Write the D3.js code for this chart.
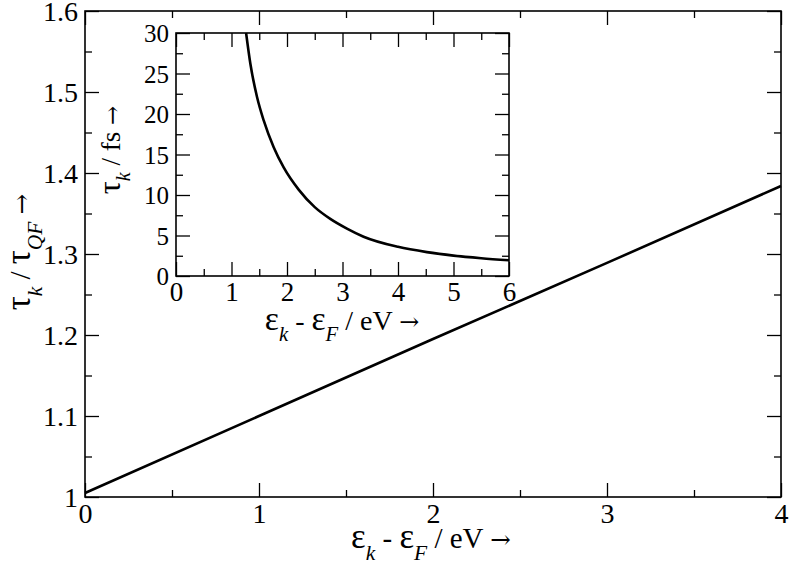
<!DOCTYPE html>
<html>
<head>
<meta charset="utf-8">
<script src="https://cdn.jsdelivr.net/npm/d3@7"></script>
</head>
<body style="margin:0; background:#fff">
<script>
// main chart data: ratio tau_k / tau_QF vs energy
var mainX = [0, 1, 2, 3, 4];
var mainY = [1.005, 1.100, 1.195, 1.289, 1.384];

// inset data: tau_k in fs vs energy
var insetX = [1.263, 1.34, 1.46, 1.58, 1.76, 1.94, 2.21, 2.5, 2.78, 3.08, 3.38, 4.0, 4.52, 5.0, 5.5, 6.0];
var insetY = [30, 26.2, 22.1, 19.2, 15.9, 13.4, 10.66, 8.5, 7.05, 5.85, 4.85, 3.6, 2.95, 2.52, 2.2, 1.95];

// tick labels
var mainXTicks = [0, 1, 2, 3, 4];
var mainYTicks = [1, 1.1, 1.2, 1.3, 1.4, 1.5, 1.6];
var insetXTicks = [0, 1, 2, 3, 4, 5, 6];
var insetYTicks = [0, 5, 10, 15, 20, 25, 30];

var svgWidth = 789;
var svgHeight = 565;
var serif = "'Liberation Serif', 'Times New Roman', serif";

var svg = d3.select("body")
  .append("svg")
  .attr("width", svgWidth)
  .attr("height", svgHeight)
  .style("background", "#fff");

// one axis call, cleaned up so it only leaves tick marks (and labels)
function ticks(g, axis, pos, size, labels, fontSize) {
  var a = g.append("g").attr("transform", pos)
    .call(axis.tickSize(size).tickSizeOuter(0));
  a.select(".domain").remove();
  a.selectAll(".tick line").attr("stroke", "#000").attr("stroke-width", 1.3);
  if (!labels) {
    a.selectAll(".tick text").remove();
  } else {
    a.selectAll(".tick text")
      .attr("fill", "#000")
      .attr("font-size", fontSize)
      .style("font-family", serif);
  }
  return a;
}

// draws a panel with inward ticks on all 4 sides
function panel(g, x, y, xt, yt, xMinor, yMinor, xFont, yFont) {
  var xr = x.range(), yr = y.range();
  var fmt = d3.format("");

  g.append("rect")
    .attr("x", xr[0]).attr("y", yr[1])
    .attr("width", xr[1] - xr[0]).attr("height", yr[0] - yr[1])
    .attr("fill", "#fff").attr("stroke", "none");

  // bottom
  ticks(g, d3.axisBottom(x).tickValues(xMinor), `translate(0,${yr[0]})`, -7, false);
  ticks(g, d3.axisBottom(x).tickValues(xt).tickPadding(5).tickFormat(fmt), `translate(0,${yr[0]})`, -14, true, xFont)
    .selectAll(".tick text").attr("dy", "0.74em");
  // top
  ticks(g, d3.axisTop(x).tickValues(xMinor), `translate(0,${yr[1]})`, -7, false);
  ticks(g, d3.axisTop(x).tickValues(xt), `translate(0,${yr[1]})`, -14, false);
  // left
  ticks(g, d3.axisLeft(y).tickValues(yMinor), `translate(${xr[0]},0)`, -7, false);
  ticks(g, d3.axisLeft(y).tickValues(yt).tickPadding(7).tickFormat(fmt), `translate(${xr[0]},0)`, -14, true, yFont)
    .selectAll(".tick text").attr("dy", "0.34em");
  // right
  ticks(g, d3.axisRight(y).tickValues(yMinor), `translate(${xr[1]},0)`, -7, false);
  ticks(g, d3.axisRight(y).tickValues(yt), `translate(${xr[1]},0)`, -14, false);
}

function frame(g, x, y) {
  var xr = x.range(), yr = y.range();
  g.append("rect")
    .attr("x", xr[0]).attr("y", yr[1])
    .attr("width", xr[1] - xr[0]).attr("height", yr[0] - yr[1])
    .attr("fill", "none").attr("stroke", "#000").attr("stroke-width", 1.6);
}

// label pieces: [text, kind] where kind is "sym" (greek), "sub", "arrow" or plain
function label(g, parts, size, shift) {
  var t = g.append("text")
    .attr("text-anchor", "middle")
    .attr("font-size", size)
    .attr("fill", "#000")
    .style("font-family", serif);
  var sub = false;
  parts.forEach(function(p) {
    var s = t.append("tspan").text(p[0]);
    var kind = p[1];
    if (kind === "sub") {
      s.attr("font-style", "italic").attr("font-size", size * 0.74);
      if (!sub) s.attr("dy", shift);
      sub = true;
      return;
    }
    if (sub) s.attr("dy", -shift);
    sub = false;
    if (kind === "sym") s.attr("font-size", size * 1.2);
    if (kind === "arrow") s.style("font-family", "'DejaVu Serif', serif").attr("font-size", size * 0.85);
  });
  return t;
}

// ---------- main chart ----------
var x = d3.scaleLinear().domain([0, 4]).range([85, 781]);
var y = d3.scaleLinear().domain([1, 1.6]).range([497, 11]);

var mainG = svg.append("g");
panel(mainG, x, y, mainXTicks, mainYTicks,
  d3.range(0.5, 4, 1), d3.range(1.05, 1.6, 0.1), 28, 28);

var line = d3.line()
  .x((d, i) => x(mainX[i]))
  .y((d, i) => y(mainY[i]));

mainG.append("path")
  .datum(mainY)
  .attr("d", line)
  .attr("fill", "none")
  .attr("stroke", "#000")
  .attr("stroke-width", 2.6);

frame(mainG, x, y);

label(mainG, [["ε", "sym"], ["k", "sub"], [" - "], ["ε", "sym"], ["F", "sub"], [" / eV "], ["→", "arrow"]], 29, 12)
  .attr("x", 431).attr("y", 548);

label(mainG, [["τ", "sym"], ["k", "sub"], [" / "], ["τ", "sym"], ["QF", "sub"], [" "], ["→", "arrow"]], 29, 12)
  .attr("transform", "translate(30,252) rotate(-90)");

// ---------- inset ----------
var ix = d3.scaleLinear().domain([0, 6]).range([176, 509]);
var iy = d3.scaleLinear().domain([0, 30]).range([276, 33]);

var insetG = svg.append("g");
panel(insetG, ix, iy, insetXTicks, insetYTicks,
  d3.range(0.5, 6, 1), d3.range(2.5, 30, 5), 27, 25);

var curve = d3.line()
  .x((d, i) => ix(insetX[i]))
  .y((d, i) => iy(insetY[i]))
  .curve(d3.curveMonotoneX);

insetG.append("path")
  .datum(insetY)
  .attr("d", curve)
  .attr("fill", "none")
  .attr("stroke", "#000")
  .attr("stroke-width", 2.6);

frame(insetG, ix, iy);

label(insetG, [["ε", "sym"], ["k", "sub"], [" - "], ["ε", "sym"], ["F", "sub"], [" / eV "], ["→", "arrow"]], 28, 11)
  .attr("x", 342).attr("y", 330);

label(insetG, [["τ", "sym"], ["k", "sub"], [" / fs "], ["→", "arrow"]], 27, 10)
  .attr("transform", "translate(120,150) rotate(-90)");
</script>
</body>
</html>
